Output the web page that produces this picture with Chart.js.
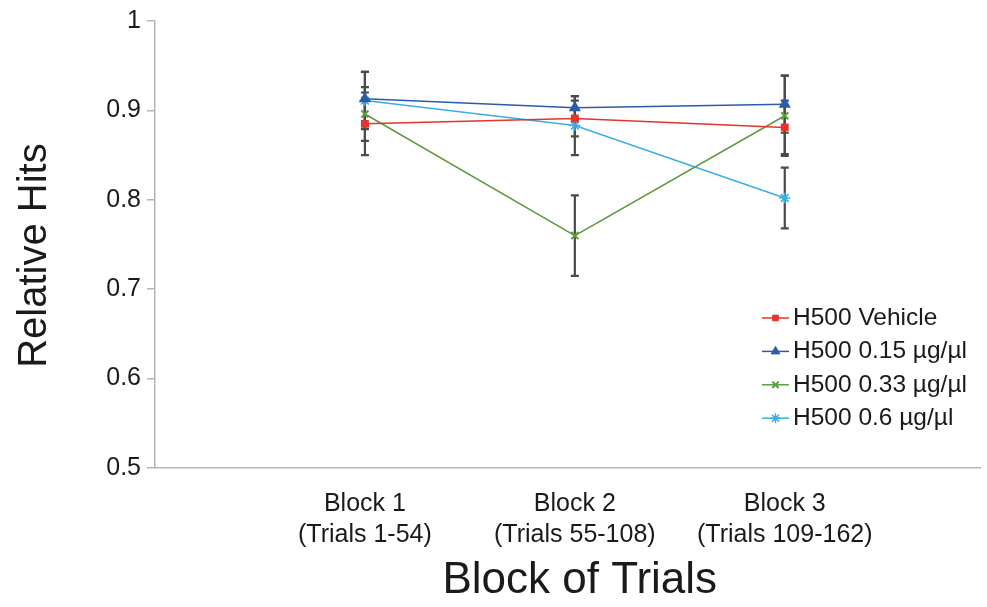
<!DOCTYPE html>
<html>
<head>
<meta charset="utf-8">
<script src="https://cdn.jsdelivr.net/npm/chart.js@4.4.1/dist/chart.umd.min.js"></script>
<style>
    body { margin: 0; background: #fff; }
    #wrap { width: 987px; height: 607px; }
</style>
</head>
<body>
<div id="wrap"><canvas id="myChart" width="987" height="607"></canvas></div>
<script>
var blockLabels = [
    ["Block 1", "(Trials 1-54)"],
    ["Block 2", "(Trials 55-108)"],
    ["Block 3", "(Trials 109-162)"]
];
var blockPos = [1, 2, 3];
var yTicks = [0.5, 0.6, 0.7, 0.8, 0.9, 1];

var seriesNames = ["H500 Vehicle", "H500 0.15 µg/µl", "H500 0.33 µg/µl", "H500 0.6 µg/µl"];
var vehicle = [0.885, 0.891, 0.881];
var vehicleErr = [0.035, 0.02, 0.03];
var dose015 = [0.913, 0.903, 0.907];
var dose015Err = [0.03, 0.013, 0.032];
var dose033 = [0.896, 0.760, 0.894];
var dose033Err = [0.03, 0.045, 0.045];
var dose06 = [0.911, 0.883, 0.802];
var dose06Err = [0.032, 0.033, 0.034];

var FONT = "'Liberation Sans', Arial, sans-serif";

function pts(vals) {
    return vals.map(function (v, i) { return { x: blockPos[i], y: v }; });
}

// error bars, drawn under the lines
var errorBars = {
    id: "errorBars",
    beforeDatasetsDraw: function (chart) {
        var ctx = chart.ctx;
        var xs = chart.scales.x, ys = chart.scales.y;
        ctx.save();
        ctx.strokeStyle = "#4a4a4a";
        ctx.lineWidth = 2.2;
        chart.data.datasets.forEach(function (ds) {
            ds.data.forEach(function (p, i) {
                var e = ds.errors[i];
                var x = xs.getPixelForValue(p.x);
                var y1 = ys.getPixelForValue(p.y + e);
                var y2 = ys.getPixelForValue(p.y - e);
                ctx.beginPath();
                ctx.moveTo(x, y1); ctx.lineTo(x, y2);
                ctx.moveTo(x - 4, y1); ctx.lineTo(x + 4, y1);
                ctx.moveTo(x - 4, y2); ctx.lineTo(x + 4, y2);
                ctx.stroke();
            });
        });
        ctx.restore();
    }
};

// legend with line + marker like the original
var lineLegend = {
    id: "lineLegend",
    afterDraw: function (chart, args, opts) {
        var ctx = chart.ctx;
        ctx.save();
        ctx.font = "24.5px " + FONT;
        ctx.textBaseline = "middle";
        chart.data.datasets.forEach(function (ds, i) {
            var y = opts.y + i * opts.rowHeight;
            ctx.strokeStyle = ds.borderColor;
            ctx.lineWidth = 1.5;
            ctx.beginPath();
            ctx.moveTo(opts.x, y);
            ctx.lineTo(opts.x + 27, y);
            ctx.stroke();
            ctx.fillStyle = ds.borderColor;
            ctx.strokeStyle = ds.borderColor;
            ctx.lineWidth = ds.pointBorderWidth || 1;
            Chart.helpers.drawPoint(ctx, {
                pointStyle: ds.pointStyle,
                radius: ds.pointRadius - 0.5,
                borderWidth: ds.pointBorderWidth || 1,
                rotation: 0
            }, opts.x + 13.5, y);
            ctx.fillStyle = "#1a1a1a";
            ctx.fillText(ds.label, opts.x + 31, y);
        });
        ctx.restore();
    }
};

var ctx = document.getElementById("myChart").getContext("2d");
var chart = new Chart(ctx, {
    type: "line",
    data: {
        datasets: [
            {
                label: seriesNames[0],
                data: pts(vehicle),
                errors: vehicleErr,
                borderColor: "#e3342f",
                backgroundColor: "#e3342f",
                pointStyle: "rect",
                pointRadius: 4.5,
                borderWidth: 1.5
            },
            {
                label: seriesNames[1],
                data: pts(dose015),
                errors: dose015Err,
                borderColor: "#2b5ca8",
                backgroundColor: "#2b5ca8",
                pointStyle: "triangle",
                pointRadius: 5.5,
                borderWidth: 1.5
            },
            {
                label: seriesNames[2],
                data: pts(dose033),
                errors: dose033Err,
                borderColor: "#5e9a3e",
                backgroundColor: "#5e9a3e",
                pointStyle: "crossRot",
                pointRadius: 5,
                pointBorderWidth: 2,
                borderWidth: 1.5
            },
            {
                label: seriesNames[3],
                data: pts(dose06),
                errors: dose06Err,
                borderColor: "#38aee6",
                backgroundColor: "#38aee6",
                pointStyle: "star",
                pointRadius: 5.5,
                pointBorderWidth: 1.5,
                borderWidth: 1.5
            }
        ]
    },
    options: {
        responsive: false,
        animation: false,
        events: [],
        layout: { padding: { top: 20, right: 0, left: 0, bottom: 0 } },
        plugins: {
            legend: { display: false },
            tooltip: { enabled: false },
            lineLegend: { x: 762, y: 318, rowHeight: 33.4 }
        },
        scales: {
            x: {
                type: "linear",
                min: 0,
                max: 3.93,
                afterBuildTicks: function (scale) {
                    scale.ticks = blockPos.map(function (v) { return { value: v }; });
                },
                afterFit: function (scale) { scale.height = 139; },
                grid: { display: false },
                border: { display: true, color: "#b5b5b5", width: 1.5 },
                ticks: {
                    padding: 12,
                    maxRotation: 0,
                    autoSkip: false,
                    color: "#1a1a1a",
                    font: { family: FONT, size: 25, lineHeight: 1.25 },
                    callback: function (value, index) { return blockLabels[index]; }
                },
                title: {
                    display: true,
                    text: "  Block of Trials",
                    color: "#1a1a1a",
                    font: { family: FONT, size: 44 },
                    padding: { top: 0, bottom: 0 }
                }
            },
            y: {
                min: 0.5,
                max: 1,
                afterBuildTicks: function (scale) {
                    scale.ticks = yTicks.map(function (v) { return { value: v }; });
                },
                afterFit: function (scale) { scale.width = 155; },
                grid: { drawOnChartArea: false, tickLength: 8, color: "#b5b5b5", lineWidth: 1.5 },
                border: { display: true, color: "#b5b5b5", width: 1.5 },
                ticks: {
                    padding: 6,
                    color: "#1a1a1a",
                    font: { family: FONT, size: 25 },
                    callback: function (v) { return v === 1 ? "1" : v.toFixed(1); }
                },
                title: {
                    display: true,
                    text: "Relative Hits  ",
                    color: "#1a1a1a",
                    font: { family: FONT, size: 40 },
                    padding: { top: 11, bottom: 0 }
                }
            }
        }
    },
    plugins: [errorBars, lineLegend]
});
</script>
</body>
</html>
